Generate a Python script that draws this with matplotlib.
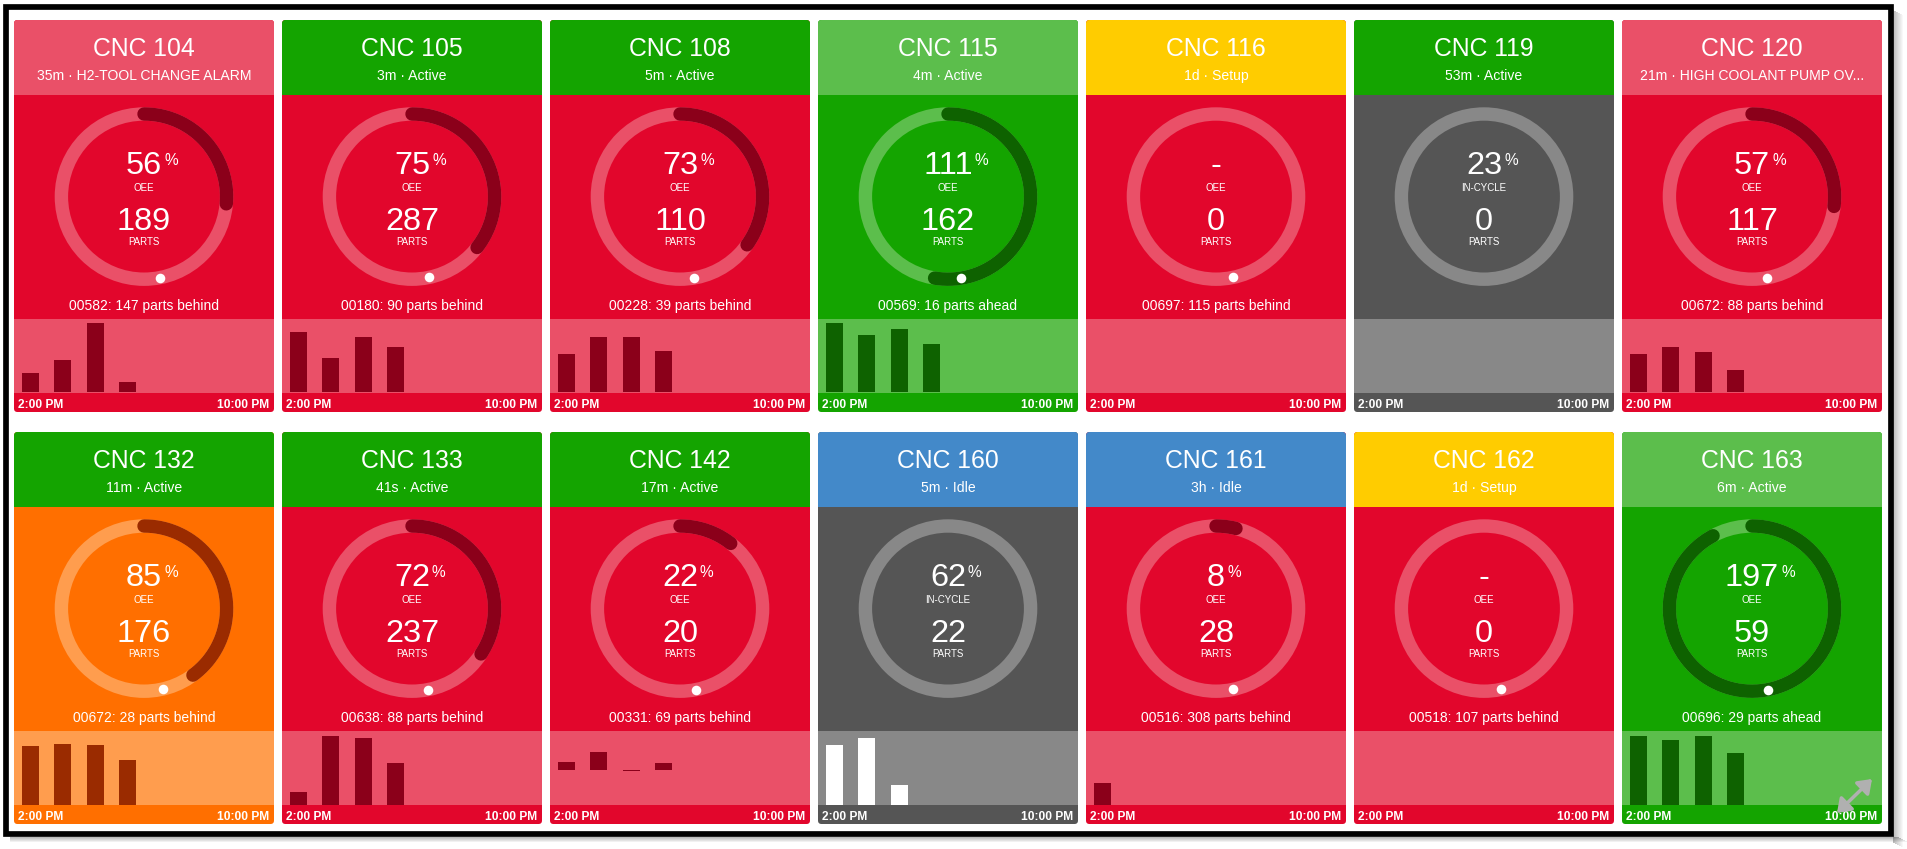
import matplotlib
matplotlib.use("Agg")
import numpy as np
import matplotlib.pyplot as plt
from matplotlib.patches import FancyBboxPatch, Rectangle, Circle

plt.rcParams['font.family'] = ['Liberation Sans', 'DejaVu Sans']

# ---------------- data ----------------
machines = ["CNC 104", "CNC 105", "CNC 108", "CNC 115", "CNC 116", "CNC 119", "CNC 120",
            "CNC 132", "CNC 133", "CNC 142", "CNC 160", "CNC 161", "CNC 162", "CNC 163"]
durations = ["35m", "3m", "5m", "4m", "1d", "53m", "21m",
             "11m", "41s", "17m", "5m", "3h", "1d", "6m"]
statuses = ["H2-TOOL CHANGE ALARM", "Active", "Active", "Active", "Setup", "Active",
            "HIGH COOLANT PUMP OV...",
            "Active", "Active", "Active", "Idle", "Idle", "Setup", "Active"]
header_state = ["alarm", "active", "active", "active_hi", "setup", "active", "alarm",
                "active", "active", "active", "idle", "idle", "setup", "active_hi"]
body_state = ["red", "red", "red", "green", "red", "gray", "red",
              "orange", "red", "red", "gray", "red", "red", "green"]
metric_pct = [56, 75, 73, 111, None, 23, 57, 85, 72, 22, 62, 8, None, 197]
metric_label = ["OEE", "OEE", "OEE", "OEE", "OEE", "IN-CYCLE", "OEE",
                "OEE", "OEE", "OEE", "IN-CYCLE", "OEE", "OEE", "OEE"]
parts = [189, 287, 110, 162, 0, 0, 117, 176, 237, 20, 22, 28, 0, 59]
jobs = ["00582", "00180", "00228", "00569", "00697", None, "00672",
        "00672", "00638", "00331", None, "00516", "00518", "00696"]
parts_delta = [-147, -90, -39, 16, -115, None, -88, -28, -88, -69, None, -308, -107, 29]
shift_goal = [716, 807, 315, 308, 246, None, 435, 441, 692, 190, None, 720, 229, 64]
hourly_parts = [[28, 47, 99, 15], [88, 51, 81, 67], [22, 32, 32, 24], [47, 39, 43, 33], [], [],
                [31, 36, 32, 18],
                [46, 48, 47, 35], [16, 86, 83, 52], [5, 11, -1, 4], [9, 10, 3], [28], [],
                [16, 15, 16, 12]]
hourly_ymin = [0, 0, 0, 0, 0, 0, 0, 0, 0, -21.3, 0, 0, 0, 0]
hourly_ymax = [105.6, 108.1, 42.7, 50.2, 100, 100, 58.9, 58.4, 92.6, 24.1, 11.2, 95.5, 100, 17.2]
N_HOURS = 8
axis_start, axis_end = "2:00 PM", "10:00 PM"

PALETTE = {
    "red": dict(body="#E2062C", light="#EA5068", dark="#8B001A"),
    "green": dict(body="#14A400", light="#5CBE4C", dark="#0E6200"),
    "orange": dict(body="#FF6F00", light="#FF9D4E", dark="#9A2B00"),
    "gray": dict(body="#555555", light="#888888", dark="#FFFFFF"),
}
HEADER = {"alarm": "#EA5068", "active": "#14A400", "active_hi": "#5CBE4C",
          "setup": "#FFCC00", "idle": "#4389C9"}

# ---------------- layout (pixels) ----------------
W, H = 1907, 849
PT = 0.72
TILE_W, TILE_H = 260, 392
COL0, COL_STEP = 14, 268
ROW0, ROW_STEP = 20, 412
HEAD_H = 75
CHART_TOP, CHART_H = 298.5, 74
FOOT_TOP = CHART_TOP + CHART_H
RING_DY, RING_R, RING_W = 176.6, 82.6, 13.4


def fs(px):
    return px * PT


fig = plt.figure(figsize=(W / 100, H / 100), dpi=100, facecolor='white')
ax = fig.add_axes([0, 0, 1, 1])
ax.set_xlim(0, W)
ax.set_ylim(H, 0)
ax.axis('off')
renderer = fig.canvas.get_renderer()

for k, name in enumerate(machines):
    row, col = divmod(k, 7)
    x0 = COL0 + COL_STEP * col
    y0 = ROW0 + ROW_STEP * row
    pal = PALETTE[body_state[k]]
    tile = FancyBboxPatch((x0, y0), TILE_W, TILE_H, boxstyle="round,pad=0,rounding_size=3.5",
                          fc=pal['body'], ec='none', zorder=1)
    ax.add_patch(tile)
    for yy, hh, c in [(0, HEAD_H, HEADER[header_state[k]]), (CHART_TOP, CHART_H, pal['light'])]:
        r = Rectangle((x0, y0 + yy), TILE_W, hh, fc=c, ec='none', zorder=2)
        ax.add_patch(r)
        r.set_clip_path(tile)
    cx = x0 + TILE_W / 2
    txt = dict(color='white', va='baseline', zorder=6)
    ax.text(cx, y0 + 35.9, name, ha='center', fontsize=fs(24.7), **txt)
    ax.text(cx, y0 + 60.3, f"{durations[k]} \u00b7 {statuses[k]}", ha='center', fontsize=fs(14.0), **txt)

    # ring
    cy = y0 + RING_DY
    ax.add_patch(Circle((cx, cy), RING_R, fill=False, ec=pal['light'], lw=RING_W * PT, zorder=3))
    goal = shift_goal[k]
    if goal:
        frac = parts[k] / goal
        if frac > 0:
            t = np.linspace(0, 2 * np.pi * frac, 300)
            ax.plot(cx + RING_R * np.sin(t), cy - RING_R * np.cos(t), color=pal['dark'],
                    lw=RING_W * PT, solid_capstyle='round', zorder=4)
        expected = parts[k] - parts_delta[k]
        a = 2 * np.pi * expected / goal
        ax.plot([cx + RING_R * np.sin(a)], [cy - RING_R * np.cos(a)], 'o', ms=9.6 * PT,
                color='white', mec='none', zorder=5)

    pct = metric_pct[k]
    num = ax.text(cx, y0 + 154.1, '-' if pct is None else str(pct), ha='center',
                  fontsize=fs(32.5), **txt)
    if pct is not None:
        bb = num.get_window_extent(renderer=renderer)
        xr = ax.transData.inverted().transform((bb.x1, bb.y0))[0]
        ax.text(xr + 2, y0 + 144.7, '%', ha='left', fontsize=fs(15.5), **txt)
    ax.text(cx, y0 + 170.9, metric_label[k], ha='center', fontsize=fs(9.8), **txt)
    ax.text(cx, y0 + 210.1, str(parts[k]), ha='center', fontsize=fs(32.5), **txt)
    ax.text(cx, y0 + 225.2, "PARTS", ha='center', fontsize=fs(9.8), **txt)
    if jobs[k]:
        d = parts_delta[k]
        ax.text(cx, y0 + 289.8, f"{jobs[k]}: {abs(d)} parts {'behind' if d < 0 else 'ahead'}",
                ha='center', fontsize=fs(13.9), **txt)
    ax.text(x0 + 4.4, y0 + 387.6, axis_start, ha='left', fontsize=fs(12), fontweight='bold', **txt)
    ax.text(x0 + TILE_W - 4.4, y0 + 387.6, axis_end, ha='right', fontsize=fs(12),
            fontweight='bold', **txt)

    vals = hourly_parts[k]
    if vals:
        bax = fig.add_axes([x0 / W, 1 - (y0 + FOOT_TOP) / H, TILE_W / W, CHART_H / H])
        bax.axis('off')
        bax.bar(np.arange(len(vals)) + 0.5, vals, width=0.51, color=pal['dark'])
        bax.set_xlim(0, N_HOURS)
        bax.set_ylim(hourly_ymin[k], hourly_ymax[k])

# overlay: frame, shadow, expand icon
ov = fig.add_axes([0, 0, 1, 1])
ov.set_xlim(0, W)
ov.set_ylim(H, 0)
ov.axis('off')
FX0, FY0, FX1, FY1 = 3.6, 4.0, 1893.4, 836.7
for j in range(10):
    al = 0.45 * (1 - j / 10)
    ov.add_patch(Rectangle((FX1 + j, FY0 + 6 + j * 0.5), 1, FY1 - FY0, fc='black', ec='none', alpha=al * 0.6))
for j in range(5):
    al = 0.45 * (1 - j / 5)
    ov.add_patch(Rectangle((FX0 + 6, FY1 + j), FX1 - FX0 + 2 * j, 1, fc='black', ec='none', alpha=al * 0.6))
ov.add_patch(Rectangle((FX0 + 2.85, FY0 + 2.85), FX1 - FX0 - 5.7, FY1 - FY0 - 5.7, fill=False,
                       ec='black', lw=5.7 * PT))
ov.annotate('', xy=(1872, 779), xytext=(1837, 813),
            arrowprops=dict(arrowstyle='<|-|>,head_length=0.55,head_width=0.4', color='#B0B0B0',
                            lw=3.5 * PT, shrinkA=0, shrinkB=0, mutation_scale=14))

fig.savefig("out.png", dpi=100, facecolor='white')
